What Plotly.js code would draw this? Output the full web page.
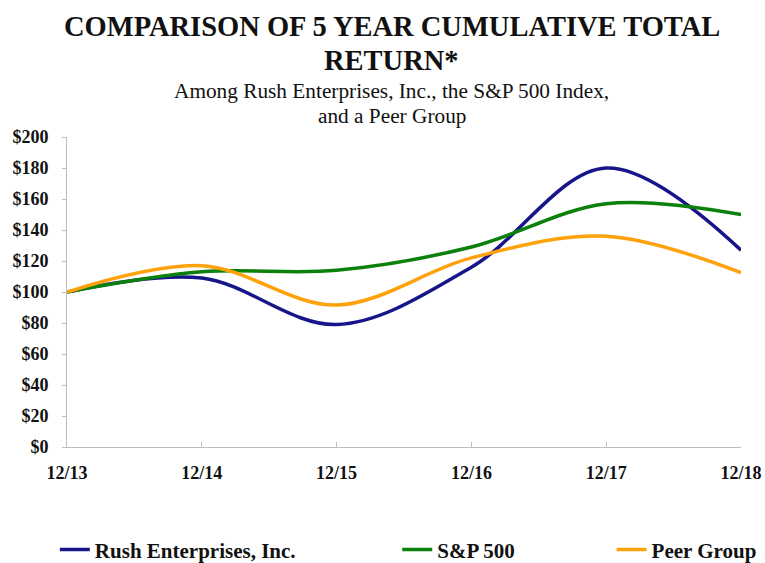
<!DOCTYPE html>
<html>
<head>
<meta charset="utf-8">
<script src="https://cdn.plot.ly/plotly-3.0.1.min.js"></script>
<style>html,body{margin:0;padding:0;background:#fff;}#chart{width:765px;height:563px;}</style>
</head>
<body>
<div id="chart"></div>
<script>
const categories = ['12/13', '12/14', '12/15', '12/16', '12/17', '12/18'];
const rushValues = [100, 109, 79, 116, 180, 127];
const sp500Values = [100, 113, 114, 129, 157, 150];
const peerValues = [100, 117, 91.6, 122, 136, 112.5];
const seriesNames = ['Rush Enterprises, Inc.', 'S&P 500', 'Peer Group'];
const yTickVals = [0, 20, 40, 60, 80, 100, 120, 140, 160, 180, 200];
const yTickText = ['$0', '$20', '$40', '$60', '$80', '$100', '$120', '$140', '$160', '$180', '$200'];

const FONT = 'Liberation Serif, Times New Roman, serif';
const x = categories.map((c, i) => i);

function line(name, y, color, legend) {
  return {
    x: x, y: y, name: name, type: 'scatter', mode: 'lines',
    line: {color: color, width: 3.5, shape: 'spline', smoothing: 1},
    legend: legend, hoverinfo: 'skip'
  };
}

const traces = [
  line(seriesNames[0], rushValues, '#16168a', 'legend'),
  line(seriesNames[1], sp500Values, '#0b800b', 'legend2'),
  line(seriesNames[2], peerValues, '#ffa10a', 'legend3')
];

function legendCfg(xpos) {
  return {
    x: xpos, y: -0.332, xanchor: 'left', yanchor: 'middle', orientation: 'h',
    bgcolor: 'rgba(0,0,0,0)', borderwidth: 0,
    font: {family: FONT, size: 21, color: '#111', weight: 'bold'}
  };
}

function ann(text, ypos, size, bold) {
  return {
    text: bold ? '<b>' + text + '</b>' : text, xref: 'paper', yref: 'paper',
    x: 0.482, y: ypos, xanchor: 'center', yanchor: 'middle', showarrow: false,
    font: {family: FONT, size: size, color: '#111'}
  };
}

const layout = {
  width: 765, height: 563,
  margin: {l: 67, r: 24, t: 137, b: 116, autoexpand: false},
  paper_bgcolor: '#fff', plot_bgcolor: '#fff',
  showlegend: true,
  legend: legendCfg(-0.018),
  legend2: legendCfg(0.490),
  legend3: legendCfg(0.808),
  xaxis: {
    range: [0, 5], tickvals: x, ticktext: categories,
    showgrid: false, zeroline: false,
    showline: true, linecolor: '#bdbdbd', linewidth: 1,
    ticks: 'inside', ticklen: 5, tickcolor: '#bdbdbd',
    ticklabelstandoff: 9,
    tickfont: {family: FONT, size: 18, color: '#111', weight: 'bold'},
    fixedrange: true
  },
  yaxis: {
    range: [0, 200], tickvals: yTickVals, ticktext: yTickText,
    showgrid: false, zeroline: false,
    showline: true, linecolor: '#bdbdbd', linewidth: 1,
    ticks: 'outside', ticklen: 4, tickcolor: '#bdbdbd',
    ticklabelstandoff: 10,
    tickfont: {family: FONT, size: 18, color: '#111', weight: 'bold'},
    fixedrange: true
  },
  annotations: [
    ann('COMPARISON OF 5 YEAR CUMULATIVE TOTAL', 1.355, 28.5, true),
    ann('RETURN*', 1.248, 28.5, true),
    ann('Among Rush Enterprises, Inc., the S&amp;P 500 Index,', 1.148, 21.3, false),
    ann('and a Peer Group', 1.068, 21.3, false)
  ]
};

Plotly.newPlot('chart', traces, layout, {displayModeBar: false, staticPlot: true});
</script>
</body>
</html>
